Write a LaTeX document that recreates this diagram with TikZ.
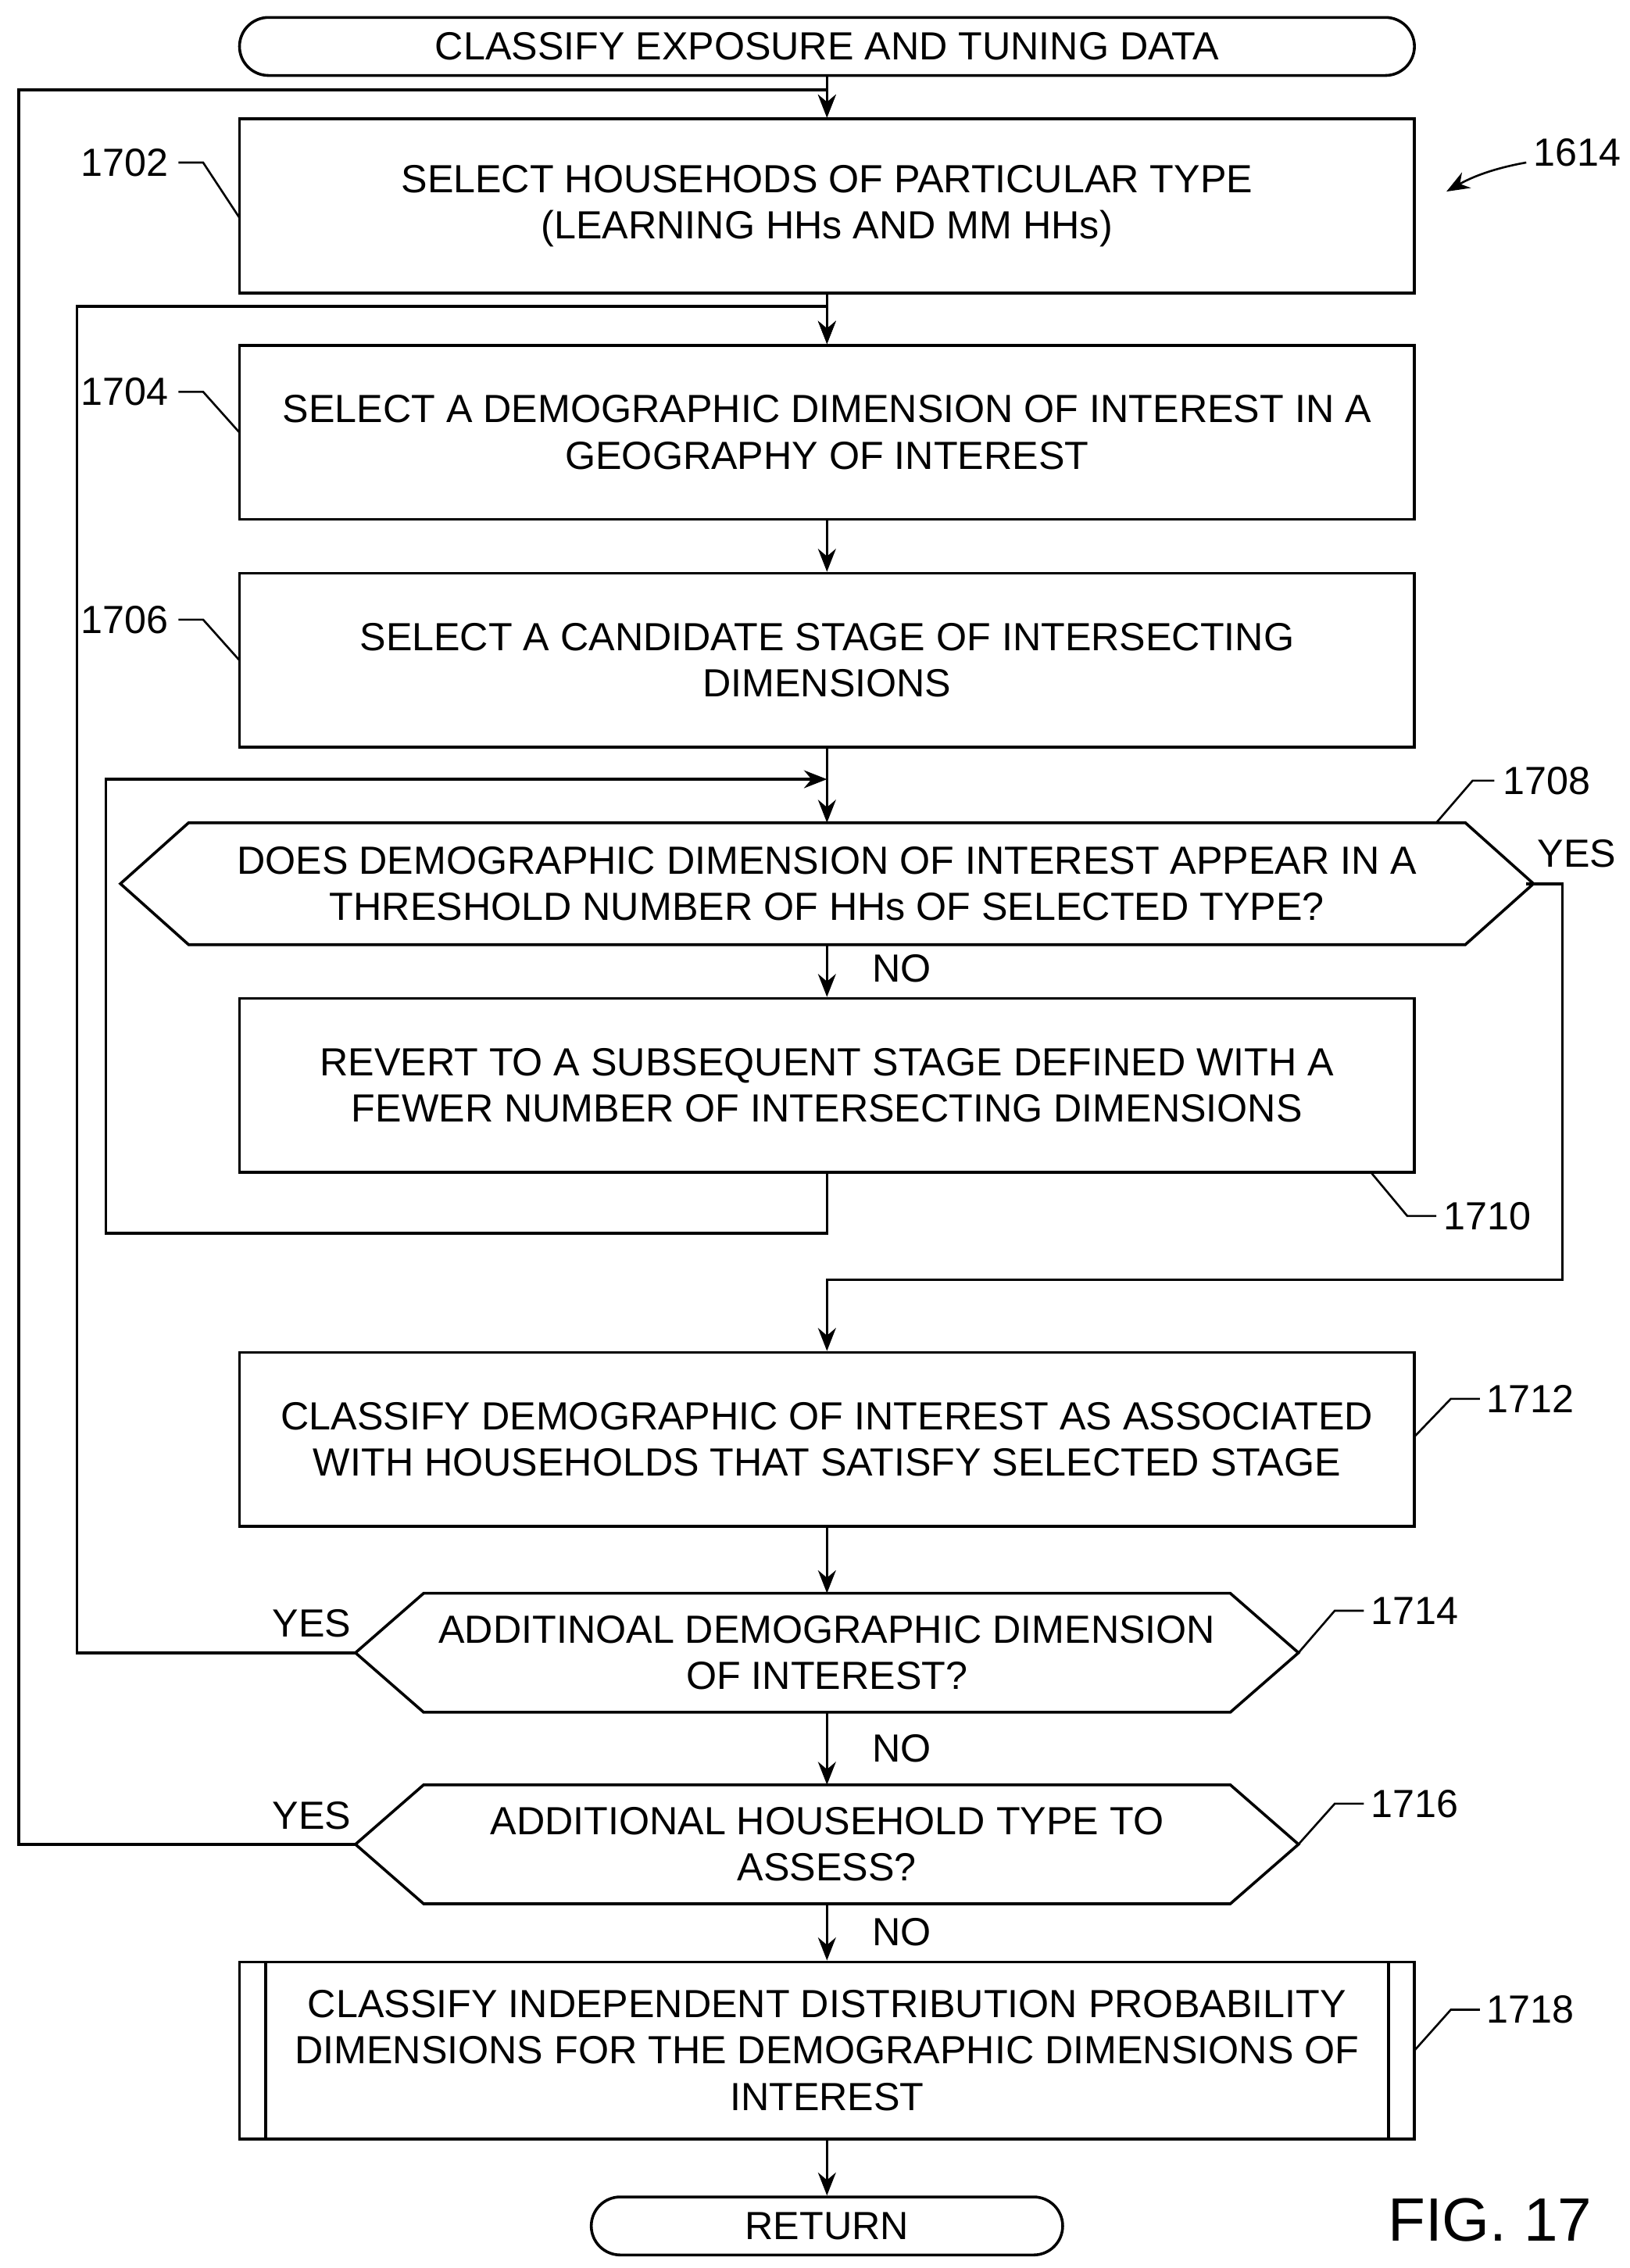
\documentclass[tikz,border=0pt]{standalone}
\usepackage{fontspec}
\setmainfont{Liberation Sans}
\usetikzlibrary{arrows.meta}
\begin{document}
\begin{tikzpicture}[x=0.02cm,y=-0.02cm,line width=1.1pt,
  >={Stealth[length=9pt,width=7pt]},
  box/.style={draw,minimum width=16.2cm,minimum height=2.4cm,align=center,inner sep=0pt},
  term/.style={draw,rounded corners=0.4cm,minimum height=0.8cm,align=center,inner sep=0pt},
  txt/.style={align=center,inner sep=0pt},
  lbl/.style={inner sep=1pt},
  every node/.style={font=\fontsize{15.4}{18.2}\selectfont}]
\useasboundingbox (0,0) rectangle (1123,1563);
% start / end
\node[term,minimum width=16.2cm] (start) at (570,32) {CLASSIFY EXPOSURE AND TUNING DATA};
\node[term,minimum width=6.5cm] (ret) at (570,1534) {RETURN};
% process boxes
\node[box] (b1702) at (570,142) {SELECT HOUSEHODS OF PARTICULAR TYPE\\(LEARNING HHs AND MM HHs)};
\node[box] (b1704) at (570,298) {SELECT A DEMOGRAPHIC DIMENSION OF INTEREST IN A\\GEOGRAPHY OF INTEREST};
\node[box] (b1706) at (570,455) {SELECT A CANDIDATE STAGE OF INTERSECTING\\DIMENSIONS};
\node[box] (b1710) at (570,748) {REVERT TO A SUBSEQUENT STAGE DEFINED WITH A\\FEWER NUMBER OF INTERSECTING DIMENSIONS};
\node[box] (b1712) at (570,992) {CLASSIFY DEMOGRAPHIC OF INTEREST AS ASSOCIATED\\WITH HOUSEHOLDS THAT SATISFY SELECTED STAGE};
\node[box,minimum height=2.44cm] (b1718) at (570,1413) {CLASSIFY INDEPENDENT DISTRIBUTION PROBABILITY\\DIMENSIONS FOR THE DEMOGRAPHIC DIMENSIONS OF\\INTEREST};
\draw (183,1352) -- (183,1474) (957,1352) -- (957,1474);
% decisions
\draw (83,609) -- (130,567) -- (1010,567) -- (1057,609) -- (1010,651) -- (130,651) -- cycle;
\node[txt] (d1708) at (570,609) {DOES DEMOGRAPHIC DIMENSION OF INTEREST APPEAR IN A\\THRESHOLD NUMBER OF HHs OF SELECTED TYPE?};
\draw (245,1139) -- (292,1098) -- (848,1098) -- (895,1139) -- (848,1180) -- (292,1180) -- cycle;
\node[txt] (d1714) at (570,1139) {ADDITINOAL DEMOGRAPHIC DIMENSION\\OF INTEREST?};
\draw (245,1271) -- (292,1230) -- (848,1230) -- (895,1271) -- (848,1312) -- (292,1312) -- cycle;
\node[txt] (d1716) at (570,1271) {ADDITIONAL HOUSEHOLD TYPE TO\\ASSESS?};
\coordinate (d1708w) at (83,609);\coordinate (d1708e) at (1052,609);
\coordinate (d1714n) at (570,1098);\coordinate (d1714s) at (570,1180);\coordinate (d1714w) at (245,1139);
\coordinate (d1716n) at (570,1230);\coordinate (d1716s) at (570,1312);\coordinate (d1716w) at (245,1271);
\coordinate (d1708n) at (570,567);\coordinate (d1708s) at (570,651);
% connectors
\draw[->] (start) -- (b1702);
\draw[->] (b1702) -- (b1704);
\draw[->] (b1704) -- (b1706);
\draw[->] (b1706) -- (d1708n);
\draw[->] (d1708s) -- (b1710) node[pos=0.45,right=14pt] {NO};
\draw[->] (b1710.south) |- (73,850) |- (570,537);
\draw[->] (d1708e) -| (1077,882) -| (b1712.north);
\node[lbl] at (1087,588) {YES};
\draw[->] (b1712) -- (d1714n);
\draw[->] (d1714w) -| (53,211) -| (b1704.north);
\node[lbl] at (215,1119) {YES};
\draw[->] (d1714s) -- (d1716n) node[midway,right=14pt] {NO};
\draw[->] (d1716w) -| (13,62) -| (b1702.north);
\node[lbl] at (215,1251) {YES};
\draw[->] (d1716s) -- (b1718) node[midway,right=14pt] {NO};
\draw[->] (b1718) -- (ret);
% reference labels
\node[lbl] (r1702) at (86,112) {1702};
\draw[line width=0.8pt] (123,112) -- (140,112) -- (165,150);
\node[lbl] (r1704) at (86,270) {1704};
\draw[line width=0.8pt] (123,270) -- (140,270) -- (165,298);
\node[lbl] (r1706) at (86,427) {1706};
\draw[line width=0.8pt] (123,427) -- (140,427) -- (165,455);
\node[lbl] (r1614) at (1087,105) {1614};
\draw[->,line width=0.8pt] (1052,112) .. controls (1035,115) and (1018,120) .. (997,132);
\node[lbl] (r1708) at (1066,538) {1708};
\draw[line width=0.8pt] (1030,538) -- (1015,538) -- (990,567);
\node[lbl] (r1710) at (1025,838) {1710};
\draw[line width=0.8pt] (990,838) -- (970,838) -- (945,808);
\node[lbl] (r1712) at (1055,964) {1712};
\draw[line width=0.8pt] (1020,964) -- (1000,964) -- (975,990);
\node[lbl] (r1714) at (975,1110) {1714};
\draw[line width=0.8pt] (940,1110) -- (920,1110) -- (895,1139);
\node[lbl] (r1716) at (975,1243) {1716};
\draw[line width=0.8pt] (940,1243) -- (920,1243) -- (895,1271);
\node[lbl] (r1718) at (1055,1385) {1718};
\draw[line width=0.8pt] (1020,1385) -- (1000,1385) -- (975,1413);
\node[lbl,font=\fontsize{24}{28}\selectfont] (fig) at (1027,1530) {FIG. 17};
\end{tikzpicture}
\end{document}
